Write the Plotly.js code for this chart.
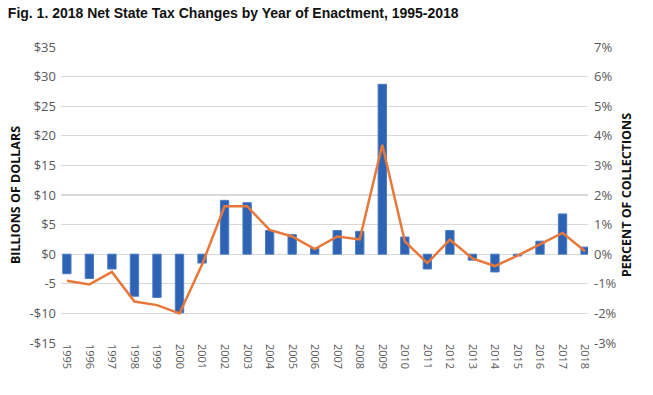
<!DOCTYPE html>
<html>
<head>
<meta charset="utf-8">
<script src="https://cdn.plot.ly/plotly-3.0.1.min.js"></script>
<style>
html,body{margin:0;padding:0;background:#fff;}
#chart{width:653px;height:395px;}
</style>
</head>
<body>
<div id="chart"></div>
<script>
const years = ['1995','1996','1997','1998','1999','2000','2001','2002','2003','2004','2005','2006',
               '2007','2008','2009','2010','2011','2012','2013','2014','2015','2016','2017','2018'];
const billions = [-3.3, -4.1, -2.5, -7.1, -7.3, -9.9, -1.5, 9.1, 8.7, 4.0, 3.3, 1.0,
                  4.0, 3.85, 28.7, 2.9, -2.5, 4.0, -1.0, -3.0, -0.3, 2.2, 6.8, 1.2];
const percentOfCollections = [-0.9, -1.02, -0.6, -1.6, -1.72, -2.0, -0.35, 1.62, 1.62, 0.82, 0.6, 0.17,
                  0.6, 0.5, 3.7, 0.43, -0.3, 0.49, -0.14, -0.4, -0.05, 0.34, 0.72, 0.1];
const leftTickVals = [-15, -10, -5, 0, 5, 10, 15, 20, 25, 30, 35];
const leftTickText = ['-$15', '-$10', '-5', '$0', '$5', '$10', '$15', '$20', '$25', '$30', '$35'];
const rightTickVals = [-3, -2, -1, 0, 1, 2, 3, 4, 5, 6, 7];
const rightTickText = ['-3%', '-2%', '-1%', '0%', '1%', '2%', '3%', '4%', '5%', '6%', '7%'];

const idx = years.map((y, i) => i);

const traces = [
  {
    type: 'bar', x: idx, y: billions, yaxis: 'y', name: 'Billions of dollars',
    marker: {color: '#2E62B2', line: {color: '#4A7BC8', width: 1}},
    width: 0.37, hoverinfo: 'x+y'
  },
  {
    type: 'scatter', mode: 'lines', x: idx, y: percentOfCollections, yaxis: 'y2',
    name: 'Percent of collections',
    line: {color: '#E8783A', width: 2.5}
  }
];

const tickFont = {family: 'Open Sans, sans-serif', size: 13, color: '#595959'};

const layout = {
  width: 653, height: 395,
  margin: {l: 61, r: 65, t: 47, b: 52},
  paper_bgcolor: '#fff', plot_bgcolor: '#fff',
  showlegend: false,
  title: {
    text: '<b>Fig. 1. 2018 Net State Tax Changes by Year of Enactment, 1995-2018</b>',
    font: {family: 'Liberation Sans, Arial, sans-serif', size: 14, color: '#111'},
    x: 0.012, xanchor: 'left', y: 0.967, yanchor: 'middle'
  },
  xaxis: {
    range: [-0.26, 23.13],
    tickmode: 'array', tickvals: idx, ticktext: years,
    tickangle: 90,
    tickfont: {family: 'Open Sans, sans-serif', size: 11, color: '#595959'},
    showgrid: false, zeroline: false, showline: false, ticks: '',
    fixedrange: true
  },
  yaxis: {
    range: [-15, 35],
    tickmode: 'array', tickvals: leftTickVals, ticktext: leftTickText,
    tickfont: tickFont,
    showgrid: true, gridcolor: '#D9D9D9', gridwidth: 1.3,
    zeroline: true, zerolinecolor: '#D9D9D9', zerolinewidth: 1.3,
    showline: false, ticks: '',
    ticklabelstandoff: 4,
    title: {text: '<b>BILLIONS OF DOLLARS</b>', font: {family: 'Open Sans, sans-serif', size: 12.5, color: '#111'}, standoff: 6},
    fixedrange: true
  },
  yaxis2: {
    range: [-3, 7], overlaying: 'y', side: 'right',
    tickmode: 'array', tickvals: rightTickVals, ticktext: rightTickText,
    tickfont: tickFont,
    showgrid: false, zeroline: false, showline: false, ticks: '',
    ticklabelstandoff: 5,
    title: {text: '<b>PERCENT OF COLLECTIONS</b>', font: {family: 'Open Sans, sans-serif', size: 12.5, color: '#111'}, standoff: 6},
    fixedrange: true
  }
};

Plotly.newPlot('chart', traces, layout, {displayModeBar: false, staticPlot: true});
</script>
</body>
</html>
